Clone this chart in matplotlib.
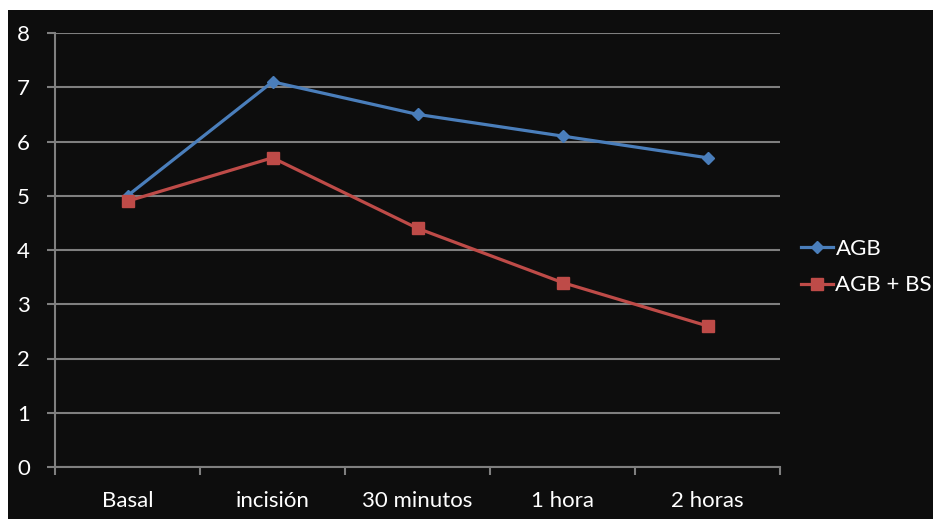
import matplotlib.pyplot as plt
from matplotlib.patches import Rectangle

# datos
categorias = ["Basal", "incisión", "30 minutos", "1 hora", "2 horas"]
agb = [5.0, 7.1, 6.5, 6.1, 5.7]
agb_bs = [4.9, 5.7, 4.4, 3.4, 2.6]

plt.rcParams['font.family'] = ['Lato', 'DejaVu Sans']

W, H = 933, 519
fig = plt.figure(figsize=(W / 100, H / 100), dpi=100, facecolor="white")

# fondo oscuro del gráfico
fig.patches.append(Rectangle((8 / W, 0), 1 - 8 / W, 1 - 10 / H,
                             transform=fig.transFigure, facecolor="#0d0d0d",
                             edgecolor="none", zorder=-5))

ax = fig.add_axes([55 / W, 1 - 467 / H, (780 - 55) / W, (467 - 33) / H])
ax.set_facecolor("#0d0d0d")

x = range(len(categorias))
ax.plot(x, agb, color="#4a7ebb", lw=2.3, marker="D", ms=6.5, label="AGB", zorder=3)
ax.plot(x, agb_bs, color="#be4b48", lw=2.3, marker="s", ms=8, label="AGB + BS", zorder=3)

ax.set_xlim(-0.5, len(categorias) - 0.5)
ax.set_ylim(0, 8)
ax.set_yticks(range(0, 9))
ax.set_xticks(x)
ax.set_xticklabels(categorias)
ax.set_xticks([i - 0.5 for i in range(len(categorias) + 1)], minor=True)

grid_c = "#7f7f7f"
ax.grid(axis="y", color=grid_c, lw=1.5, zorder=1)
for s in ["top", "right"]:
    ax.spines[s].set_visible(False)
for s in ["left", "bottom"]:
    ax.spines[s].set_color(grid_c)
    ax.spines[s].set_linewidth(1.5)

ax.tick_params(axis="y", colors=grid_c, length=6, width=1.5, labelcolor="white",
               labelsize=16, pad=12)
ax.tick_params(axis="x", which="major", length=0, labelcolor="white",
               labelsize=16, pad=17)
ax.tick_params(axis="x", which="minor", colors=grid_c, length=6, width=1.5)

leg = ax.legend(loc="center left", bbox_to_anchor=(801 / W, 1 - 267 / H),
                bbox_transform=fig.transFigure, frameon=False, fontsize=16,
                labelcolor="white", handlelength=1.45, handletextpad=0.1,
                labelspacing=0.75, borderaxespad=0, borderpad=0)

fig.savefig("out.png", dpi=100, facecolor=fig.get_facecolor())
